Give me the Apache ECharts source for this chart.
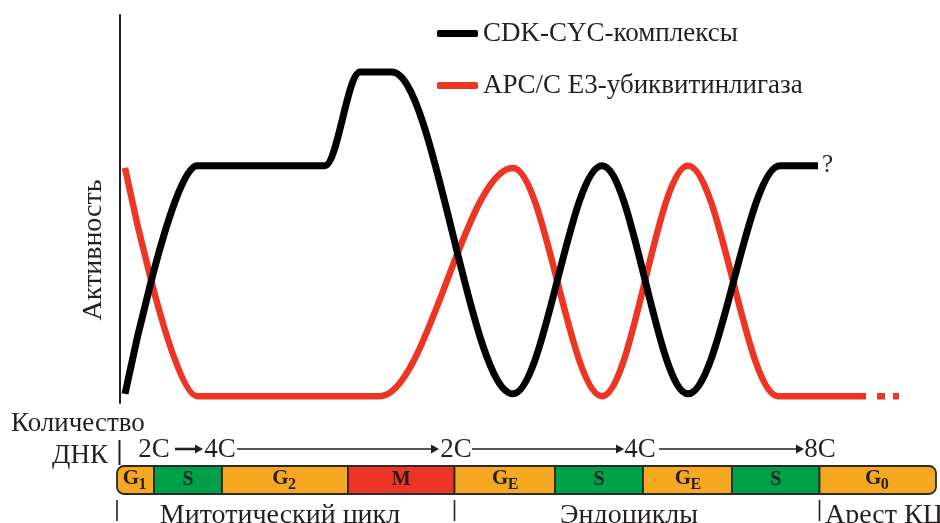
<!DOCTYPE html>
<html><head><meta charset="utf-8">
<script src="https://cdn.jsdelivr.net/npm/echarts@6/dist/echarts.min.js"></script>
<style>html,body{margin:0;padding:0;background:#fff}#c{width:940px;height:523px}</style>
</head><body><div id="c"></div>
<script>
// Time axis in relative units (0..819); activity in relative units
const cdkX = [8, 80, 208, 243, 275, 396, 485, 571, 663, 701];
const cdkY = [0, 100, 100, 141, 141, 0, 100, 0, 100, 100];
const apcX = [8, 80, 263, 396, 485, 571, 661, 749];
const apcY = [99, -1, -1, 99, -1, 100, -1, -1];
const apcTailX = [760, 782];
const apcTailY = [-1, -1];
const seriesNames = ['CDK-CYC-комплексы', 'APC/C E3-убиквитинлигаза'];
const yAxisName = 'Активность';
const endMark = '?';

const phaseMain = ['G', 'S', 'G', 'M', 'G', 'S', 'G', 'S', 'G'];
const phaseSub = ['1', '', '2', '', 'E', '', 'E', '', '0'];
const phaseStart = [0, 37, 105, 231, 337.5, 438, 526, 615, 702.5];
const phaseEnd = [37, 105, 231, 337.5, 438, 526, 615, 702.5, 819];

const dnaTitle = ['Количество', 'ДНК'];
const dnaLabels = ['2C', '4C', '2C', '4C', '8C'];
const dnaLabelX = [37, 103, 339, 523, 703];
const dnaArrowFrom = [58, 120, 355, 542];
const dnaArrowTo = [86, 322, 507, 687];

const regionLabels = ['Митотический цикл', 'Эндоциклы', 'Арест КЦ'];
const regionLabelX = [163, 512, 708];
const regionBounds = [0, 337.5, 702.5];

const FONT = '"Liberation Serif", "DejaVu Serif", serif';
const INK = '#231f20';
const COL = { G: '#f7a823', S: '#00a04a', M: '#ec3524' };
const RED = '#ee3524';

const chart = echarts.init(document.getElementById('c'));
const gridBase = { left: 117, right: 4 };
const xAxes = [0, 1, 2, 3].map(i => ({ type: 'value', gridIndex: i, min: 0, max: 819, show: false }));
const yAxes = [
  { type: 'value', gridIndex: 0, min: -4, max: 166, offset: -3,
    axisLine: { show: true, lineStyle: { color: INK, width: 2 } },
    axisTick: { show: false }, axisLabel: { show: false }, splitLine: { show: false } },
  { type: 'value', gridIndex: 1, min: 0, max: 1, show: false },
  { type: 'value', gridIndex: 2, min: 0, max: 1, show: false },
  { type: 'value', gridIndex: 3, min: 0, max: 1, show: false }
];

const option = {
  animation: false,
  backgroundColor: '#fff',
  grid: [
    Object.assign({ top: 15, height: 388 }, gridBase),
    Object.assign({ top: 437, height: 24 }, gridBase),
    Object.assign({ top: 466, height: 28 }, gridBase),
    Object.assign({ top: 500, height: 28 }, gridBase)
  ],
  xAxis: xAxes,
  yAxis: yAxes,
  legend: {
    orient: 'vertical', left: 432, top: 15, itemWidth: 41, itemHeight: 7, itemGap: 25,
    icon: 'roundRect',
    textStyle: { fontFamily: FONT, fontSize: 27, color: INK },
    data: seriesNames
  },
  graphic: [
    { type: 'text', x: 94, y: 250, rotation: Math.PI / 2,
      style: { text: yAxisName, font: '28px ' + FONT, fill: INK, align: 'center', verticalAlign: 'middle' } },
    { type: 'text', x: 11, y: 424,
      style: { text: dnaTitle[0], font: '27px ' + FONT, fill: INK, align: 'left', verticalAlign: 'middle' } },
    { type: 'text', x: 108, y: 456,
      style: { text: dnaTitle[1], font: '27px ' + FONT, fill: INK, align: 'right', verticalAlign: 'middle' } },
    { type: 'line', shape: { x1: 119.5, y1: 440, x2: 119.5, y2: 465 }, style: { stroke: INK, lineWidth: 2 } }
  ],
  series: [
    { name: seriesNames[1], type: 'line', xAxisIndex: 0, yAxisIndex: 0, z: 2,
      data: apcX.map((x, i) => [x, apcY[i]]), smooth: 0.35, smoothMonotone: 'x',
      symbol: 'none', clip: false,
      lineStyle: { color: RED, width: 6.5, cap: 'butt' }, itemStyle: { color: RED } },
    { type: 'line', xAxisIndex: 0, yAxisIndex: 0, z: 2,
      data: apcTailX.map((x, i) => [x, apcTailY[i]]),
      symbol: 'none', clip: false,
      lineStyle: { color: RED, width: 6.5, type: [8, 8], cap: 'butt' } },
    { name: seriesNames[0], type: 'line', xAxisIndex: 0, yAxisIndex: 0, z: 3,
      data: cdkX.map((x, i) => [x, cdkY[i]]), smooth: 0.35, smoothMonotone: 'x',
      symbol: 'none', clip: false,
      lineStyle: { color: '#000', width: 7, cap: 'butt' }, itemStyle: { color: '#000' },
      endLabel: { show: true, formatter: endMark, fontFamily: FONT, fontSize: 25, color: INK, distance: 4 } },
    // DNA content arrows
    { type: 'custom', xAxisIndex: 1, yAxisIndex: 1, clip: false,
      data: dnaArrowFrom.map((f, i) => [f, dnaArrowTo[i]]),
      renderItem: (params, api) => {
        const a = api.coord([api.value(0), 0.5]);
        const b = api.coord([api.value(1), 0.5]);
        const lw = params.dataIndex === 0 ? 2.6 : 1.4;
        const head = 8, hw = 4.5;
        return { type: 'group', children: [
          { type: 'line', shape: { x1: a[0], y1: a[1], x2: b[0] - head + 1, y2: b[1] }, style: { stroke: INK, lineWidth: lw } },
          { type: 'polygon', shape: { points: [[b[0], b[1]], [b[0] - head, b[1] - hw], [b[0] - head, b[1] + hw]] }, style: { fill: INK } }
        ] };
      } },
    // DNA content labels
    { type: 'custom', xAxisIndex: 1, yAxisIndex: 1, clip: false,
      data: dnaLabelX.map((x, i) => [x, dnaLabels[i]]),
      renderItem: (params, api) => {
        const p = api.coord([api.value(0), 0.5]);
        return { type: 'text', x: p[0], y: p[1] + 1,
          style: { text: dnaLabels[params.dataIndex], font: '27px ' + FONT, fill: INK, align: 'center', verticalAlign: 'middle' } };
      } },
    // Phase bar
    { type: 'custom', xAxisIndex: 2, yAxisIndex: 2, clip: false,
      data: phaseStart.map((s, i) => [s, phaseEnd[i]]),
      renderItem: (params, api) => {
        const i = params.dataIndex, last = phaseStart.length - 1;
        const p0 = api.coord([api.value(0), 1]);
        const p1 = api.coord([api.value(1), 0]);
        const w = p1[0] - p0[0], h = p1[1] - p0[1];
        const cx = p0[0] + w / 2, cy = p0[1] + h / 2;
        const rr = 7;
        const r = [i === 0 ? rr : 0, i === last ? rr : 0, i === last ? rr : 0, i === 0 ? rr : 0];
        const main = phaseMain[i], sub = phaseSub[i];
        const children = [
          { type: 'rect', shape: { x: p0[0], y: p0[1], width: w, height: h, r: r },
            style: { fill: COL[main] || COL.G, stroke: '#2a2a2a', lineWidth: 1.8 } }
        ];
        if (sub) {
          children.push({ type: 'text', x: cx - 4.5, y: cy - 1.5,
            style: { text: main, font: 'bold 21px ' + FONT, fill: INK, align: 'center', verticalAlign: 'middle' } });
          children.push({ type: 'text', x: cx + 3, y: cy + 5,
            style: { text: sub, font: 'bold 16px ' + FONT, fill: INK, align: 'left', verticalAlign: 'middle' } });
        } else {
          children.push({ type: 'text', x: cx, y: cy - 0.5,
            style: { text: main, font: 'bold 20px ' + FONT, fill: INK, align: 'center', verticalAlign: 'middle' } });
        }
        return { type: 'group', children: children };
      } },
    // Region boundary ticks
    { type: 'custom', xAxisIndex: 3, yAxisIndex: 3, clip: false,
      data: regionBounds.map(b => [b]),
      renderItem: (params, api) => {
        const p = api.coord([api.value(0), 0.5]);
        return { type: 'line', shape: { x1: p[0], y1: 500, x2: p[0], y2: 521 }, style: { stroke: INK, lineWidth: 1.6 } };
      } },
    // Region labels
    { type: 'custom', xAxisIndex: 3, yAxisIndex: 3, clip: false,
      data: regionLabelX.map(x => [x]),
      renderItem: (params, api) => {
        const i = params.dataIndex;
        const p = api.coord([api.value(0), 0.5]);
        return { type: 'text', x: p[0], y: 516,
          style: { text: regionLabels[i], font: '28px ' + FONT, fill: INK,
            align: i === regionLabels.length - 1 ? 'left' : 'center', verticalAlign: 'middle' } };
      } }
  ]
};
chart.setOption(option);
</script>
</body></html>
